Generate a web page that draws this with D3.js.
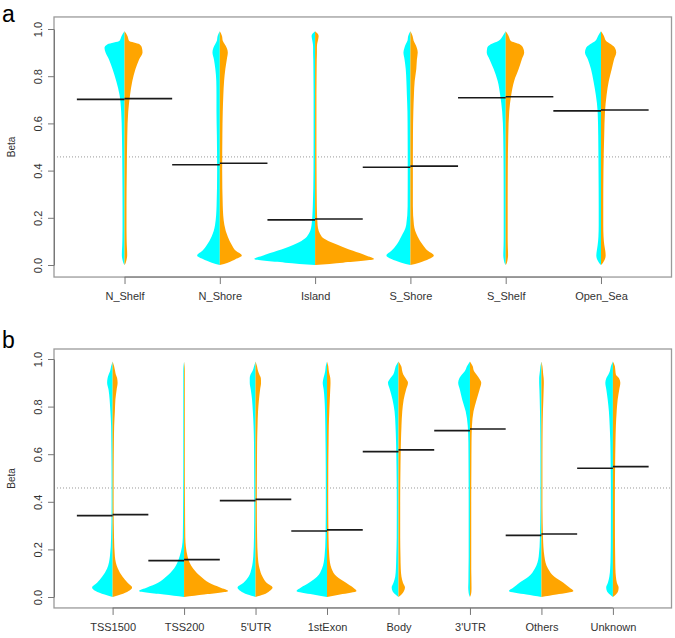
<!DOCTYPE html>
<html><head><meta charset="utf-8">
<script src="https://cdn.jsdelivr.net/npm/d3@7"></script>
<style>
body{margin:0;background:#fff}
svg{display:block;font-family:"Liberation Sans",Arial,Helvetica,sans-serif}
</style>
</head><body>
<svg id="chart" width="675" height="638"></svg>
<script>
// ---- data ----
const betaGrid = [0,0.01,0.025,0.04,0.06,0.085,0.12,0.17,0.25,0.4,0.55,0.65,0.72,0.78,0.83,0.87,0.9,0.92,0.935,0.95,0.97,0.99];
const yTicks = [0,0.2,0.4,0.6,0.8,1.0];
const refLine = 0.458;

// panel a: CpG island regions (half-widths in % of category spacing)
const regionCats = ["N_Shelf","N_Shore","Island","S_Shore","S_Shelf","Open_Sea"];
const regionCyan = [
  [0,1.3,2.3,2.8,2.7,2.4,2.2,2.1,2.1,2.3,2.7,3.5,5.2,8.7,12.6,16.2,19.9,21.0,17.8,5.2,3.1,0],
  [0,8.4,17.8,23.8,18.3,13.6,8.7,5.0,3.4,2.8,3.1,3.5,3.5,3.7,4.7,6.1,7.7,6.8,4.9,3.1,2.3,0],
  [0,31.4,63.9,54.5,39.8,23.1,8.7,3.7,2.4,1.7,1.6,1.6,1.6,1.7,1.8,1.9,2.1,2.1,2.3,2.9,3.7,0],
  [0,9.4,19.9,25.2,19.9,14.7,9.7,4.4,2.9,2.8,2.9,3.1,3.7,4.2,4.9,6.1,7.3,6.3,4.9,3.1,2.3,0],
  [0,1.3,2.1,2.5,2.4,2.2,2.1,2.1,2.1,2.2,2.6,3.7,5.8,8.4,12.6,16.8,19.9,19.4,15.7,7.3,3.1,0],
  [0,2.1,4.2,4.9,4.4,3.5,2.7,2.4,2.4,2.6,2.9,3.5,5.4,7.9,10.5,13.6,16.8,15.7,11.5,5.8,3.1,0]
];
const regionOrange = [
  [0,1.3,2.3,2.8,2.7,2.4,2.2,2.1,2.1,2.4,2.9,3.9,5.8,8.2,11.5,15.2,18.9,18.3,15.7,4.7,3.1,0],
  [0,8.4,16.8,23.1,16.8,12.6,8.4,4.8,3.1,2.5,2.7,3.1,3.7,4.5,5.8,7.3,8.4,7.3,5.2,3.1,2.3,0],
  [0,29.3,61.8,53.4,39.8,24.1,7.0,2.6,1.8,1.5,1.4,1.4,1.4,1.5,1.6,1.7,1.9,1.9,2.1,2.9,3.7,0],
  [0,9.4,19.4,24.6,18.3,13.1,7.7,3.7,2.6,2.6,2.7,3.1,3.7,4.5,6.2,6.8,7.7,6.8,5.2,3.4,2.3,0],
  [0,1.3,2.1,2.5,2.4,2.2,2.1,2.1,2.1,2.2,2.7,3.7,5.8,8.9,13.6,16.8,19.4,18.3,14.7,5.2,3.1,0],
  [0,2.1,4.2,4.9,4.5,3.5,2.7,2.4,2.4,2.6,3.4,4.2,5.9,8.2,11.3,13.6,16.0,14.7,10.5,5.2,3.1,0]
];
const regionMedCyan   = [0.702,0.425,0.191,0.414,0.709,0.653];
const regionMedOrange = [0.705,0.431,0.195,0.419,0.713,0.657];

// panel b: gene features
const featureCats = ["TSS1500","TSS200","5'UTR","1stExon","Body","3'UTR","Others","Unknown"];
const featureCyan = [
  [0,11.2,23.8,28.7,21.7,14.7,7.7,3.8,2.1,1.4,1.5,1.8,2.1,3.1,4.2,5.6,7.7,7.0,5.5,3.5,2.1,0],
  [0,28,63,51.8,36.4,25.2,14,6.3,1.8,1.3,1.1,1.1,1.1,1.1,1.1,1.1,1.1,1.1,1.1,1.1,0.8,0],
  [0,11.2,21,25.2,16.8,9.8,5.6,3.2,2.2,1.8,2.0,2.2,2.8,3.8,4.9,6.6,8.1,8.1,7.0,4.2,2.1,0],
  [0,19.6,42.7,36.4,25.2,14,7,3.5,2.1,1.7,1.8,2.1,2.4,2.8,3.5,4.6,6.0,4.9,3.6,2.5,1.8,0],
  [0,4.2,8.4,9.5,7,4.6,3.6,3.1,2.5,2.4,2.8,3.4,4.2,5.5,8.4,11.9,14.7,11.2,7.3,5.6,3.9,0],
  [0,1.4,2.1,2.4,2.2,2.1,2,1.8,1.8,1.8,2,2.2,3.1,6,10.9,14,16.5,14.7,11.2,7,4.2,0],
  [0,21,45.5,39.2,30.8,18.2,9.1,3.8,2.1,1.4,1.4,1.5,1.7,2,2.4,2.8,3.2,3.2,2.7,2.1,1.4,0],
  [0,4.2,8.4,9.4,7,5,3.8,3.2,2.9,2.8,3.1,3.6,4.5,5.6,7.3,9.1,10.6,9.1,6.3,4.2,2.8,0]
];
const featureOrange = [
  [0,11.2,22.4,27.3,21.0,14.0,7.3,3.2,2.0,1.4,1.5,1.8,2.2,3.2,3.9,5.6,7.0,6.3,4.5,3.5,2.1,0],
  [0,28,61.6,50.4,35,23.8,12.6,4.9,1.7,1.3,1.1,1.1,1.1,1.1,1.1,1.1,1.1,1.1,1.1,1.1,0.8,0],
  [0,11.2,19.6,23.8,15.4,9.8,5.6,3.2,2.2,1.8,2.0,2.2,2.8,3.5,4.8,6.3,7.7,7.4,5.3,3.5,2.1,0],
  [0,18.2,41.3,36.4,26.6,14,6.3,3.2,2.1,1.7,1.8,2.2,2.5,3.2,3.9,4.5,4.9,4.6,3.5,2.5,1.8,0],
  [0,4.2,7.7,9.1,6.3,4.2,3.2,2.8,2.4,2.4,2.8,3.4,4.2,5.3,7.3,10.5,13.3,9.8,6.7,5.2,3.9,0],
  [0,1.4,2.1,2.2,2.1,2,1.8,1.8,1.8,1.8,2,2.2,2.8,5,9.4,13.3,15.8,12.6,9.1,5.6,3.9,0],
  [0,21,44.8,39.2,30.8,18.2,9.1,4.2,2.2,1.4,1.4,1.5,1.7,2.1,2.7,3.1,3.4,3.1,2.5,2.1,1.4,0],
  [0,4.2,7.4,8,5.6,4.2,3.5,3.2,2.9,2.8,3.1,3.6,4.2,5.3,6.7,8.8,10.4,8.4,4.2,3.5,2.8,0]
];
const featureMedCyan   = [0.342,0.153,0.405,0.277,0.611,0.699,0.259,0.541];
const featureMedOrange = [0.346,0.157,0.410,0.282,0.618,0.706,0.265,0.548];

// ---- drawing ----
const svg = d3.select("#chart");
const CYAN = "#00FFFF", ORANGE = "#FFA500";

function drawPanel(o) {
  const n = o.cats.length;
  const pad = 0.04 * n;
  const left = 54, right = 671.5;
  const x = d3.scaleLinear().domain([0.5 - pad, n + 0.5 + pad]).range([left, right]);
  const y = d3.scaleLinear().domain([0, 1]).range([o.y0, o.y1]);
  const top = y(o.yMax), bottom = y(o.yMin);
  const unit = x(1) - x(0);
  const g = svg.append("g");

  // reference dotted line
  g.append("line")
    .attr("x1", left).attr("x2", right)
    .attr("y1", y(refLine)).attr("y2", y(refLine))
    .attr("stroke", "#999").attr("stroke-width", 1)
    .attr("stroke-dasharray", "1,2");

  // violins
  o.cats.forEach((c, i) => {
    const cx = x(i + 1);
    const pts = (arr) => betaGrid.map((v, k) => ({v, w: arr[k] / 100 * unit}));
    const leftArea = d3.area().curve(d3.curveMonotoneY)
      .y(d => y(d.v)).x0(cx).x1(d => cx - d.w);
    const rightArea = d3.area().curve(d3.curveMonotoneY)
      .y(d => y(d.v)).x0(cx).x1(d => cx + d.w);
    g.append("path").attr("d", leftArea(pts(o.cyan[i]))).attr("fill", CYAN);
    g.append("path").attr("d", rightArea(pts(o.orange[i]))).attr("fill", ORANGE);
  });

  // median lines
  o.cats.forEach((c, i) => {
    const cx = x(i + 1);
    g.append("line")
      .attr("x1", x(i + 0.5)).attr("x2", cx)
      .attr("y1", y(o.medC[i])).attr("y2", y(o.medC[i]))
      .attr("stroke", "#1a1a1a").attr("stroke-width", 1.6);
    g.append("line")
      .attr("x1", cx).attr("x2", x(i + 1.5))
      .attr("y1", y(o.medO[i])).attr("y2", y(o.medO[i]))
      .attr("stroke", "#1a1a1a").attr("stroke-width", 1.6);
  });

  // box
  g.append("rect")
    .attr("x", left).attr("y", top)
    .attr("width", right - left).attr("height", bottom - top)
    .attr("fill", "none").attr("stroke", "#9a9a9a").attr("stroke-width", 1.3);

  // y axis
  const ya = g.append("g").attr("transform", `translate(${left},0)`)
    .call(d3.axisLeft(y).tickValues(yTicks).tickFormat(d3.format(".1f")).tickSize(6).tickSizeOuter(0));
  ya.select(".domain").attr("stroke", "#777");
  ya.selectAll(".tick line").attr("stroke", "#777");
  ya.selectAll(".tick text")
    .attr("x", null).attr("dy", null)
    .attr("text-anchor", "middle")
    .attr("transform", "translate(-12,0) rotate(-90)")
    .attr("fill", "#333").attr("font-size", 11);
  ya.attr("font-family", null);

  // x axis
  const xa = g.append("g").attr("transform", `translate(0,${bottom})`)
    .call(d3.axisBottom(x).tickValues(d3.range(1, n + 1)).tickFormat(i => o.cats[i - 1]).tickSize(7).tickSizeOuter(0));
  xa.select(".domain").remove();
  xa.append("line").attr("x1", x(1)).attr("x2", x(n)).attr("stroke", "#777");
  xa.selectAll(".tick line").attr("stroke", "#777");
  xa.selectAll(".tick text").attr("y", 15).attr("fill", "#333").attr("font-size", 11);
  xa.attr("font-family", null);

  // y title
  g.append("text")
    .attr("transform", `translate(15,${(top + bottom) / 2}) rotate(-90)`)
    .attr("text-anchor", "middle").attr("font-size", 10).attr("fill", "#333")
    .text("Beta");

  // panel letter
  g.append("text").attr("x", 2).attr("y", o.letterY)
    .attr("font-size", 23).attr("fill", "#000").text(o.letter);
}

drawPanel({cats: regionCats, cyan: regionCyan, orange: regionOrange,
  medC: regionMedCyan, medO: regionMedOrange,
  y0: 265, y1: 29, yMin: -0.051, yMax: 1.051, letter: "a", letterY: 21.5});
drawPanel({cats: featureCats, cyan: featureCyan, orange: featureOrange,
  medC: featureMedCyan, medO: featureMedOrange,
  y0: 597, y1: 359, yMin: -0.046, yMax: 1.042, letter: "b", letterY: 348});
</script>
</body></html>
